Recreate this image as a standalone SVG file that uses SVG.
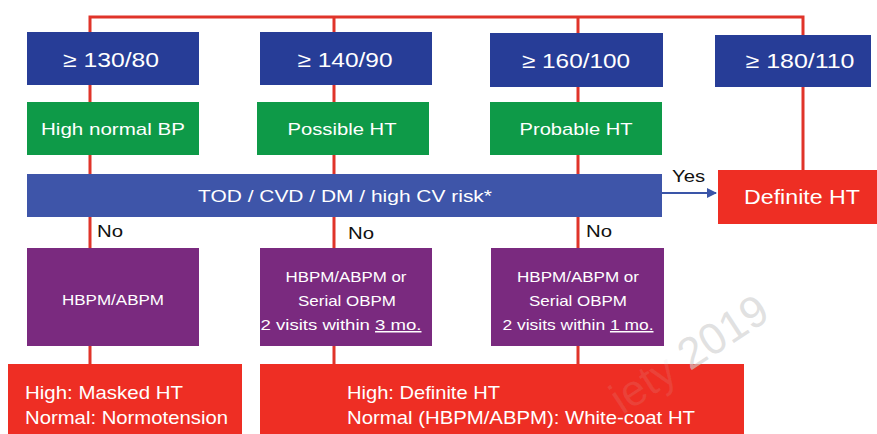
<svg xmlns="http://www.w3.org/2000/svg" width="877" height="434" viewBox="0 0 877 434">
<style>
.t{font-family:"Liberation Sans",Arial,sans-serif;fill:#fff;text-anchor:middle}
.s{text-anchor:start}
.lbl{font-family:"Liberation Sans",Arial,sans-serif;fill:#111;font-size:16px}
.blue{fill:#273d97}
.green{fill:#0e9a48}
.purple{fill:#7a2a7f}
.red{fill:#ee2e24}
.con{stroke:#e0342a;stroke-width:3;fill:none}
</style>
<defs>
<marker id="arr" viewBox="0 0 10 10" refX="9" refY="5" markerWidth="5" markerHeight="5" orient="auto"><path d="M0,0L10,5L0,10z" fill="#3a55a8"/></marker>
</defs>
<rect width="877" height="434" fill="#fff"/>
<g id="connectors">
<path class="con" d="M90,85V17H803V170"/>
<path class="con" d="M334,17V32"/>
<path class="con" d="M578,17V33"/>
<path class="con" d="M90,85V102M90,155V174M90,217V248M90,346V364"/>
<path class="con" d="M334,85V102M334,155V174M334,217V248M334,346V364"/>
<path class="con" d="M578,87V102M578,155V174M578,217V248M578,346V364"/>
<path d="M662,193H716" stroke="#3a55a8" stroke-width="2" fill="none" marker-end="url(#arr)"/>
<text class="lbl" x="672" y="182" textLength="33" lengthAdjust="spacingAndGlyphs">Yes</text>
<text class="lbl" x="97" y="237" textLength="26" lengthAdjust="spacingAndGlyphs">No</text>
<text class="lbl" x="348" y="239" textLength="26" lengthAdjust="spacingAndGlyphs">No</text>
<text class="lbl" x="586" y="237" textLength="26" lengthAdjust="spacingAndGlyphs">No</text>
</g>
<g id="b130"><rect class="blue" x="27" y="32" width="172" height="53"/><text class="t" x="111" y="67" font-size="21" textLength="96" lengthAdjust="spacingAndGlyphs">≥ 130/80</text></g>
<g id="b140"><rect class="blue" x="260" y="32" width="172" height="53"/><text class="t" x="345" y="67" font-size="21" textLength="95" lengthAdjust="spacingAndGlyphs">≥ 140/90</text></g>
<g id="b160"><rect class="blue" x="490" y="33" width="173" height="54"/><text class="t" x="576" y="68" font-size="21" textLength="108" lengthAdjust="spacingAndGlyphs">≥ 160/100</text></g>
<g id="b180"><rect class="blue" x="715" y="35" width="156" height="52"/><text class="t" x="800" y="68" font-size="21" textLength="109" lengthAdjust="spacingAndGlyphs">≥ 180/110</text></g>
<g id="g1"><rect class="green" x="27" y="102" width="172" height="53"/><text class="t" x="113" y="135" font-size="17" textLength="144" lengthAdjust="spacingAndGlyphs">High normal BP</text></g>
<g id="g2"><rect class="green" x="257" y="102" width="172" height="53"/><text class="t" x="342" y="135" font-size="17" textLength="109" lengthAdjust="spacingAndGlyphs">Possible HT</text></g>
<g id="g3"><rect class="green" x="490" y="102" width="172" height="53"/><text class="t" x="576" y="135" font-size="17" textLength="113" lengthAdjust="spacingAndGlyphs">Probable HT</text></g>
<g id="tod"><rect x="27" y="174" width="635" height="43" fill="#3e55a9"/><text class="t" x="345" y="202" font-size="17" textLength="294" lengthAdjust="spacingAndGlyphs">TOD / CVD / DM / high CV risk*</text></g>
<g id="defht"><rect class="red" x="718" y="170" width="159" height="54"/><text class="t" x="802" y="204" font-size="20" textLength="116" lengthAdjust="spacingAndGlyphs">Definite HT</text></g>
<g id="p1"><rect class="purple" x="27" y="248" width="172" height="98"/><text class="t" x="113" y="305" font-size="15" textLength="102" lengthAdjust="spacingAndGlyphs">HBPM/ABPM</text></g>
<g id="p2"><rect class="purple" x="260" y="248" width="172" height="98"/>
<text class="t" x="346" y="282" font-size="15" textLength="121" lengthAdjust="spacingAndGlyphs">HBPM/ABPM or</text>
<text class="t" x="347" y="306" font-size="15" textLength="98" lengthAdjust="spacingAndGlyphs">Serial OBPM</text>
<text class="t" x="341" y="330" font-size="15" textLength="161" lengthAdjust="spacingAndGlyphs">2 visits within <tspan text-decoration="underline">3 mo.</tspan></text></g>
<g id="p3"><rect class="purple" x="491" y="248" width="173" height="98"/>
<text class="t" x="578" y="282" font-size="15" textLength="122" lengthAdjust="spacingAndGlyphs">HBPM/ABPM or</text>
<text class="t" x="578" y="306" font-size="15" textLength="98" lengthAdjust="spacingAndGlyphs">Serial OBPM</text>
<text class="t" x="578" y="330" font-size="15" textLength="151" lengthAdjust="spacingAndGlyphs">2 visits within <tspan text-decoration="underline">1 mo.</tspan></text></g>
<g id="r1"><rect class="red" x="8" y="364" width="234" height="70"/>
<text class="t s" x="25" y="399" font-size="19" textLength="158" lengthAdjust="spacingAndGlyphs">High: Masked HT</text>
<text class="t s" x="25" y="424" font-size="19" textLength="203" lengthAdjust="spacingAndGlyphs">Normal: Normotension</text></g>
<g id="r2"><rect class="red" x="260" y="364" width="484" height="70"/>
<text class="t s" x="347" y="399" font-size="19" textLength="153" lengthAdjust="spacingAndGlyphs">High: Definite HT</text>
<text class="t s" x="347" y="424" font-size="19" textLength="348" lengthAdjust="spacingAndGlyphs">Normal (HBPM/ABPM): White-coat HT</text></g>
<text x="0" y="0" transform="translate(772,318) rotate(-33)" text-anchor="end" font-family="Liberation Sans,Arial,sans-serif" font-size="44" fill="#d0d0d0"><tspan fill-opacity="0.12">iety </tspan><tspan fill-opacity="0.65">2019</tspan></text>
</svg>
